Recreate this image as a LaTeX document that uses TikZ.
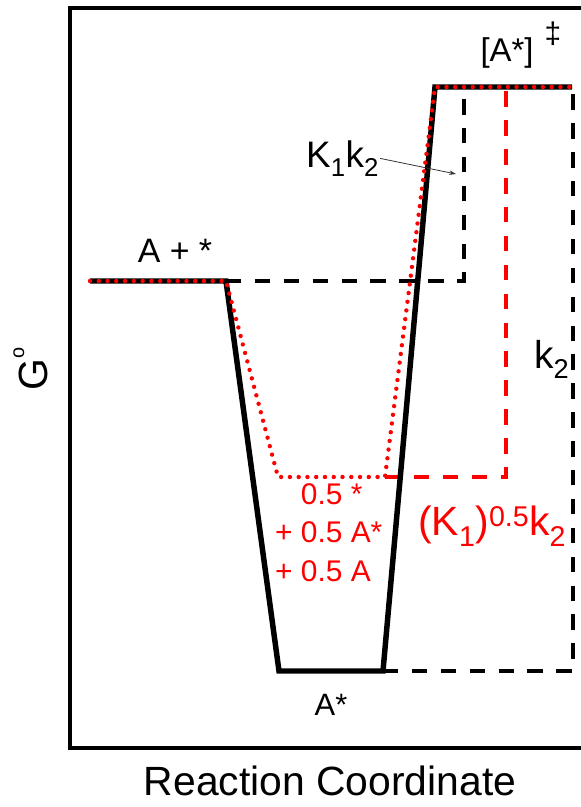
\documentclass[tikz,border=0pt]{standalone}
\usepackage{fontspec}
\setmainfont{Liberation Sans}
\usetikzlibrary{arrows.meta}
\definecolor{flame}{RGB}{255,0,0}
\definecolor{ink}{RGB}{0,0,0}
\tikzset{
  >={Stealth[length=2.4mm,width=1.6mm]},
  frame/.style={draw=ink,line width=4.5pt},
  profile/.style={draw=ink,line width=5.5pt,line join=miter},
  mixed/.style={draw=flame,line width=4.4pt,line cap=round,dash pattern=on 0pt off 8.8pt},
  gap/.style={draw=#1,line width=3.4pt,dash pattern=on 15.5pt off 13.5pt},
  gap/.default=ink,
  lbl/.style={font=\fontsize{#1}{#1}\selectfont,inner sep=1pt},
  lbl/.default=34,
}

\begin{document}
\begin{tikzpicture}[x=1bp,y=-1bp]
    \useasboundingbox (0,0) rectangle (581,807);
    % levels of the energy profile
    \coordinate (s0) at (90,281);  \coordinate (s1) at (226,281);
    \coordinate (w0) at (279,671); \coordinate (w1) at (383,671);
    \coordinate (m0) at (278,477); \coordinate (m1) at (385,477);
    \coordinate (t0) at (435,87);  \coordinate (t1) at (572,87);
    \coordinate (bs) at (464,281); \coordinate (bt) at (464,87);
    \coordinate (rs) at (506,477); \coordinate (rt) at (506,87);
    \coordinate (ws) at (573,671); \coordinate (wt) at (573,87);
    \coordinate (arr) at (456,174);
    % axes box
    \draw[frame] (581,8) -- (70,8) -- (70,748) -- (581,748);
    \node[lbl=41,rotate=90,anchor=base] (gaxis) at (47,369)
      {G\raisebox{0.56em}{\fontsize{20}{20}\selectfont o}};
    \node[lbl=41,anchor=base] (xaxis) at (330,795) {Reaction Coordinate};
    % barriers
    \draw[gap] (s1) -- (bs) -- (bt);
    \draw[gap] (w1) -- (ws) -- (wt);
    \draw[gap=flame] (m1) -- (rs) -- (rt);
    \draw[profile] (s0) -- (s1) -- (w0) -- (w1) -- (t0) -- (t1);
    \draw[mixed] (s0) -- (s1) -- (m0) -- (m1) -- (t0) -- (t1);
    % labels
    \node[lbl=34,anchor=base] (react) at (175,262) {A + *};
    \node[lbl=33,anchor=base] (ts) at (507,62) {[A*]};
    \node[lbl=30,anchor=base] (dag) at (553,44) {‡};
    \node[lbl=31,anchor=base] (ads) at (331,715) {A*};
    \node[lbl=37,anchor=base west] (k1k2) at (305,167) {K\textsubscript{1}k\textsubscript{2}};
    \node[lbl=39,anchor=base west] (k2) at (533,368) {k\textsubscript{2}};
    \node[font=\fontsize{30}{39}\selectfont,text=flame,align=left,inner sep=1pt,anchor=north west] (mix) at (274,482)
      {\phantom{+ }0.5 *\\+ 0.5 A*\\+ 0.5 A};
    \node[lbl=41,text=flame,anchor=base west] (k1half) at (417,535) {(K\textsubscript{1})\textsuperscript{0.5}k\textsubscript{2}};
    \draw[->,ink!80,line width=0.8pt] (k1k2.east) -- (arr);
  \end{tikzpicture}
\end{document}
